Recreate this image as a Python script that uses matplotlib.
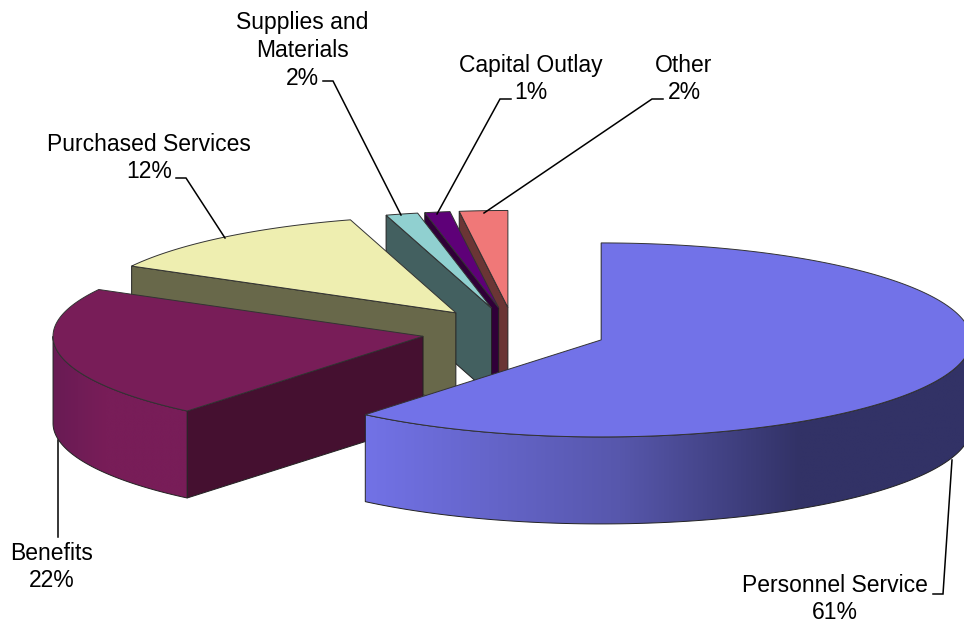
import numpy as np
import matplotlib
matplotlib.use('Agg')
import matplotlib.pyplot as plt
from matplotlib.colors import to_rgb

plt.rcParams['font.family'] = ['Liberation Sans', 'DejaVu Sans']

# slice shares, the labels only show them rounded
categories = ['Personnel Service', 'Benefits', 'Purchased Services',
              'Supplies and\nMaterials', 'Capital Outlay', 'Other']
shares = [61, 22, 12.4, 1.4, 1.1, 2.1]
percent_labels = ['61%', '22%', '12%', '2%', '1%', '2%']

top_colors = ['#7272e8', '#781d58', '#eeeeb0', '#90d0d0', '#5e0078', '#f07878']
wall_colors = ['#2f2f60', '#451030', '#68684a', '#436060', '#300038', '#6a3535']
# side shading: x stops and their colours
side_shades = {0: ([367, 620, 800], ['#7272e6', '#5757ac', '#323266']),
               1: ([51, 105], ['#681b54', '#781d58'])}

# projection of the pie in pixels
cx, cy = 514, 331.7
rx, ry = 370, 97
depth = 87
explode = 0.2503

label_xy = [(835, 599), (52, 567), (149, 158), (302, 50.5), (531, 79), (684, 79)]
leaders = [[(933, 594), (943, 594), (952, 460)],
           [(58, 537), (58, 440)],
           [(176, 178), (186, 178), (225, 238)],
           [(323, 81), (333, 81), (401, 215)],
           [(511, 99), (500, 99), (437, 214)],
           [(663, 99), (652, 99), (484, 213)]]

fig = plt.figure(figsize=(9.64, 6.23), dpi=100)
ax = fig.add_axes([0, 0, 1, 1])


def rim(t, x0, y0):
    t = np.radians(t)
    return x0 + rx * np.sin(t), y0 - ry * np.cos(t)


edges = np.concatenate([[0], np.cumsum(shares)]) * 360 / sum(shares)

# back slices first so the front ones cover them
for i in range(len(shares) - 1, -1, -1):
    t1, t2 = edges[i], edges[i + 1]
    mid = np.radians((t1 + t2) / 2)
    x0 = cx + explode * rx * np.sin(mid)
    y0 = cy - explode * ry * np.cos(mid)
    z = 10 + (6 - i) * 3

    # wall along the first radial edge
    ex, ey = rim(t1, x0, y0)
    wall = [(x0, y0), (ex, ey), (ex, ey + depth), (x0, y0 + depth)]
    ax.fill(*zip(*wall), facecolor=wall_colors[i], edgecolor='#222222', lw=0.7, zorder=z)

    # outer side, only the part facing the viewer
    a, b = max(t1, 90), min(t2, 270)
    if a < b:
        ts = np.linspace(a, b, 300)
        xs, ys = rim(ts, x0, y0)
        outline = np.c_[np.r_[xs, xs[::-1]], np.r_[ys, ys[::-1] + depth]]
        stops, cols = side_shades[i]
        cols = np.array([to_rgb(c) for c in cols])
        gx = np.linspace(outline[:, 0].min(), outline[:, 0].max(), 600)
        grad = np.stack([np.interp(gx, stops, cols[:, k]) for k in range(3)], axis=1)[None, :, :]
        im = ax.imshow(grad, extent=(gx[0], gx[-1], outline[:, 1].max(), outline[:, 1].min()),
                       aspect='auto', zorder=z + 1, interpolation='bilinear')
        patch = plt.Polygon(outline, closed=True, transform=ax.transData, facecolor='none',
                            edgecolor='#222222', lw=0.7, zorder=z + 1)
        ax.add_patch(patch)
        im.set_clip_path(patch)

    # top face
    ts = np.linspace(t1, t2, 200)
    xs, ys = rim(ts, x0, y0)
    ax.fill(np.r_[x0, xs], np.r_[y0, ys], facecolor=top_colors[i], edgecolor='#333333', lw=0.7,
            zorder=z + 2)

for i in range(len(categories)):
    ax.text(label_xy[i][0], label_xy[i][1], categories[i] + '\n' + percent_labels[i], ha='center', va='center',
            fontsize=16.5, color='black', linespacing=1.26, zorder=40)
    lx, ly = zip(*leaders[i])
    ax.plot(lx, ly, color='black', lw=1.1, zorder=5 if i < 2 else 35, solid_joinstyle='miter')

ax.set_xlim(0, 964)
ax.set_ylim(623, 0)
ax.axis('off')

fig.savefig('out.png', dpi=100)
